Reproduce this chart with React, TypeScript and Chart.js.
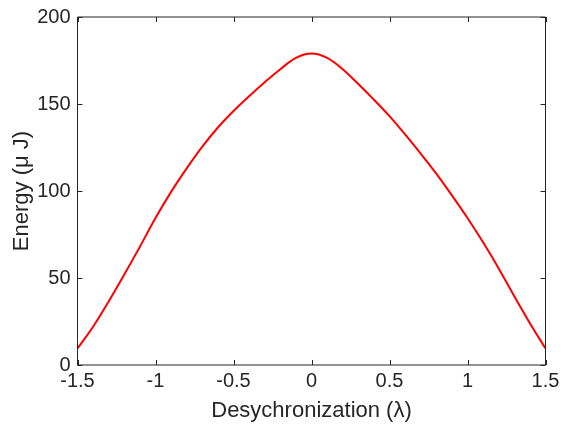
import React, { useEffect, useRef } from "react";
import { Chart, registerables } from "chart.js";

Chart.register(...registerables);

const xValues = [
  -1.5, -1.4, -1.3, -1.2, -1.1, -1.0, -0.9, -0.8, -0.7, -0.6, -0.5, -0.4, -0.3, -0.2, -0.1,
  0.0, 0.1, 0.2, 0.3, 0.4, 0.5, 0.6, 0.7, 0.8, 0.9, 1.0, 1.1, 1.2, 1.3, 1.4, 1.5,
];
const energy = [
  9.5, 22, 36.5, 52, 68, 84.5, 99.5, 113, 125.5, 136.5, 146, 154.5, 162.5, 170, 176.5,
  179, 176.5, 170, 161.5, 152.5, 143, 132.5, 121.5, 110, 97.5, 84.5, 70.5, 55.5, 39.5, 24, 9.5,
];
const xTicks = [-1.5, -1, -0.5, 0, 0.5, 1, 1.5];
const yTicks = [0, 50, 100, 150, 200];
const xTitle = "Desychronization (λ)";
const yTitle = "Energy (μ J)";

const AXIS = "#262626";
const FONT = "'Liberation Sans', Arial, Helvetica, sans-serif";

const boxPlugin = {
  id: "matlabBox",
  afterDraw(chart: any) {
    const { ctx, chartArea, scales } = chart;
    const { left, right, top, bottom } = chartArea;
    ctx.save();
    ctx.strokeStyle = AXIS;
    ctx.lineWidth = 1;
    ctx.beginPath();
    ctx.rect(left, top, right - left, bottom - top);
    const tl = 5;
    for (const v of xTicks) {
      const px = Math.round(scales.x.getPixelForValue(v)) + 0.5;
      ctx.moveTo(px, bottom);
      ctx.lineTo(px, bottom - tl);
      ctx.moveTo(px, top);
      ctx.lineTo(px, top + tl);
    }
    for (const v of yTicks) {
      const py = Math.round(scales.y.getPixelForValue(v)) + 0.5;
      ctx.moveTo(left, py);
      ctx.lineTo(left + tl, py);
      ctx.moveTo(right, py);
      ctx.lineTo(right - tl, py);
    }
    ctx.stroke();
    ctx.restore();
  },
};

export default function App() {
  const ref = useRef<HTMLCanvasElement | null>(null);
  useEffect(() => {
    if (!ref.current) return;
    const chart = new Chart(ref.current, {
      type: "line",
      data: {
        datasets: [
          {
            data: xValues.map((x, i) => ({ x, y: energy[i] })),
            borderColor: "rgb(255,0,0)",
            borderWidth: 2,
            pointRadius: 0,
            tension: 0.35,
            fill: false,
          },
        ],
      },
      options: {
        animation: false,
        responsive: true,
        maintainAspectRatio: false,
        layout: { padding: { left: 0, top: 11, right: 20.5, bottom: 0 } },
        plugins: { legend: { display: false }, tooltip: { enabled: false } },
        scales: {
          x: {
            type: "linear",
            min: -1.5,
            max: 1.5,
            afterBuildTicks: (s: any) => {
              s.ticks = xTicks.map((v) => ({ value: v }));
            },
            afterFit: (s: any) => {
              s.height = 61;
            },
            grid: { display: false, drawTicks: false, tickLength: 0 },
            border: { display: false },
            ticks: {
              padding: 4,
              color: AXIS,
              font: { family: FONT, size: 20 },
              maxRotation: 0,
              autoSkip: false,
              callback: (v: any) => String(Number(Number(v).toFixed(2))),
            },
            title: {
              display: true,
              text: xTitle,
              color: AXIS,
              font: { family: FONT, size: 22 },
              padding: { top: 0, bottom: 1.8 },
            },
          },
          y: {
            type: "linear",
            min: 0,
            max: 200,
            afterBuildTicks: (s: any) => {
              s.ticks = yTicks.map((v) => ({ value: v }));
            },
            afterFit: (s: any) => {
              s.width = 77.5;
            },
            grid: { display: false, drawTicks: false, tickLength: 0 },
            border: { display: false },
            ticks: {
              padding: 7,
              color: AXIS,
              font: { family: FONT, size: 20, lineHeight: 1 },
              autoSkip: false,
              callback: (v: any) => String(v),
            },
            title: {
              display: true,
              text: yTitle,
              color: AXIS,
              font: { family: FONT, size: 22 },
              padding: { top: 8.8, bottom: 0 },
            },
          },
        },
      },
      plugins: [boxPlugin],
    });
    return () => chart.destroy();
  }, []);
  return (
    <div style={{ position: "fixed", left: 0, top: 0, width: 566, height: 426, background: "#fff" }}>
      <canvas ref={ref} />
    </div>
  );
}
